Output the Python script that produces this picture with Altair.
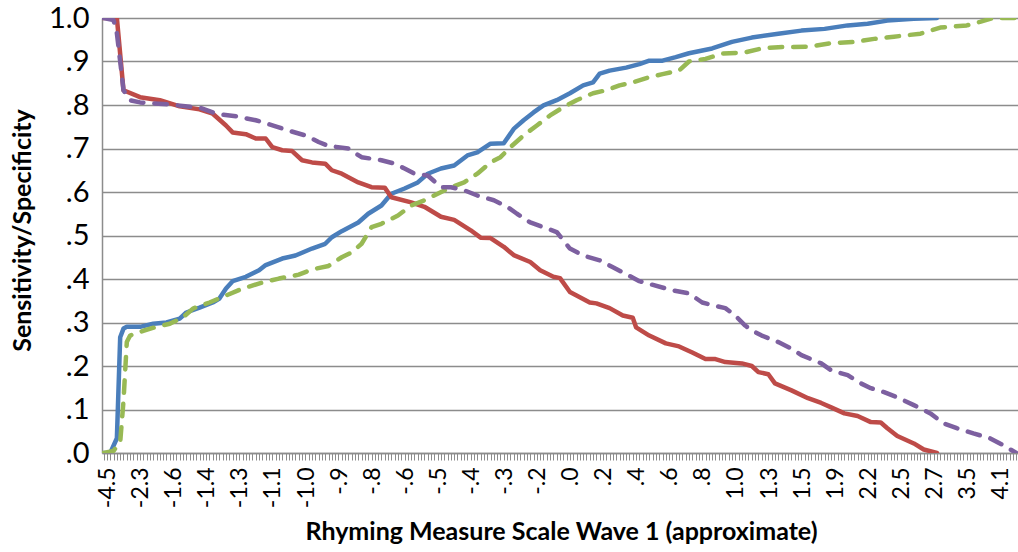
import altair as alt
import pandas as pd

# Cut-off labels shown under every 10th category of the score axis
x_labels = ["-4.5", "-2.3", "-1.6", "-1.4", "-1.3", "-1.1", "-1.0", "-.9", "-.8",
            "-.6", "-.5", "-.4", "-.3", "-.2", ".0", ".2", ".4", ".6", ".8",
            "1.0", "1.3", "1.5", "1.9", "2.2", "2.5", "2.7", "3.5", "4.1"]
n_categories = 277

# Sensitivity, wave 1 (blue, solid)
sens1_idx = [0, 2, 4, 5, 6, 7, 11, 15, 19, 23, 25, 29, 33, 35, 37, 39, 43, 47, 49,
             54, 58, 63, 67, 69, 72, 77, 80, 84, 87, 91, 95, 98, 102, 106, 110, 113,
             117, 121, 124, 127, 130, 133, 137, 141, 145, 148, 150, 153, 158, 162,
             165, 169, 173, 177, 184, 190, 196, 204, 211, 218, 225, 231, 237, 245, 252]
sens1_val = [0.0, 0.0, 0.034, 0.266, 0.286, 0.29, 0.29, 0.297, 0.30, 0.309, 0.323,
             0.334, 0.346, 0.355, 0.378, 0.395, 0.405, 0.42, 0.432, 0.447, 0.454,
             0.47, 0.481, 0.496, 0.51, 0.53, 0.55, 0.569, 0.596, 0.608, 0.622, 0.642,
             0.654, 0.661, 0.684, 0.691, 0.711, 0.712, 0.745, 0.765, 0.783, 0.799,
             0.811, 0.827, 0.845, 0.852, 0.872, 0.879, 0.886, 0.894, 0.902, 0.902,
             0.91, 0.919, 0.93, 0.945, 0.955, 0.964, 0.971, 0.975, 0.983, 0.987,
             0.994, 0.998, 1.0]

# Specificity, wave 1 (red, solid)
spec1_idx = [0, 4, 6, 11, 17, 23, 29, 33, 37, 39, 43, 46, 49, 51, 54, 57, 60, 63,
             67, 69, 72, 77, 81, 85, 87, 93, 97, 102, 106, 111, 114, 117, 121, 124,
             129, 132, 136, 138, 141, 147, 149, 153, 157, 160, 161, 165, 170, 174,
             178, 182, 185, 188, 193, 196, 198, 201, 203, 208, 213, 217, 220, 224,
             228, 232, 235, 237, 240, 245, 248, 252]
spec1_val = [1.0, 1.0, 0.834, 0.818, 0.811, 0.797, 0.79, 0.78, 0.753, 0.737, 0.733,
             0.723, 0.723, 0.703, 0.696, 0.694, 0.673, 0.668, 0.665, 0.65, 0.642,
             0.622, 0.611, 0.61, 0.588, 0.576, 0.566, 0.543, 0.536, 0.512, 0.495,
             0.494, 0.474, 0.455, 0.439, 0.42, 0.405, 0.402, 0.37, 0.346, 0.344,
             0.333, 0.316, 0.311, 0.289, 0.27, 0.252, 0.245, 0.231, 0.216, 0.216,
             0.209, 0.206, 0.2, 0.186, 0.181, 0.16, 0.144, 0.126, 0.115, 0.105,
             0.091, 0.085, 0.071, 0.07, 0.057, 0.039, 0.022, 0.008, 0.0]

# Sensitivity, comparison (green, dashed)
sens2_idx = [0, 3, 5, 6, 7, 8, 12, 16, 20, 24, 27, 32, 37, 42, 48, 53, 59, 63, 68,
             72, 75, 78, 81, 84, 89, 93, 97, 101, 105, 109, 113, 117, 120, 123, 127,
             131, 135, 139, 143, 148, 152, 156, 160, 165, 169, 174, 177, 182, 187,
             194, 199, 204, 213, 220, 227, 233, 239, 247, 253, 261, 265, 269, 276]
sens2_val = [0.0, 0.005, 0.025, 0.12, 0.255, 0.27, 0.281, 0.29, 0.297, 0.312,
             0.332, 0.346, 0.362, 0.378, 0.392, 0.401, 0.41, 0.422, 0.43, 0.45,
             0.461, 0.481, 0.519, 0.527, 0.546, 0.569, 0.581, 0.596, 0.611, 0.622,
             0.642, 0.668, 0.68, 0.703, 0.73, 0.753, 0.776, 0.795, 0.811, 0.827,
             0.834, 0.845, 0.852, 0.864, 0.871, 0.879, 0.9, 0.906, 0.918, 0.921,
             0.93, 0.933, 0.934, 0.942, 0.945, 0.952, 0.957, 0.964, 0.978, 0.983,
             0.991, 1.0, 1.0]

# Specificity, comparison (purple, dashed)
spec2_idx = [0, 3, 4, 5, 6, 8, 11, 20, 29, 34, 40, 46, 52, 56, 61, 65, 68, 74, 78,
             84, 88, 91, 94, 98, 102, 105, 109, 113, 118, 122, 125, 129, 133, 137,
             139, 141, 145, 150, 154, 157, 162, 172, 177, 181, 184, 188, 191, 194,
             196, 199, 204, 208, 211, 217, 220, 225, 229, 232, 236, 240, 245, 250,
             254, 258, 263, 268, 272, 276]
spec2_val = [1.0, 0.995, 0.965, 0.9, 0.834, 0.811, 0.806, 0.801, 0.794, 0.78,
             0.774, 0.765, 0.751, 0.741, 0.73, 0.715, 0.706, 0.70, 0.68, 0.673,
             0.665, 0.654, 0.642, 0.638, 0.611, 0.611, 0.604, 0.592, 0.581, 0.566,
             0.55, 0.53, 0.519, 0.508, 0.489, 0.47, 0.454, 0.443, 0.427, 0.415,
             0.395, 0.374, 0.367, 0.346, 0.34, 0.333, 0.316, 0.293, 0.282, 0.27,
             0.255, 0.24, 0.225, 0.206, 0.19, 0.179, 0.16, 0.149, 0.14, 0.128, 0.11,
             0.091, 0.068, 0.057, 0.045, 0.034, 0.018, 0.0]

series = [
    ("Sensitivity W1", sens1_idx, sens1_val, "#4A7EBB", None),
    ("Specificity W1", spec1_idx, spec1_val, "#BE4B48", None),
    ("Sensitivity W2", sens2_idx, sens2_val, "#98B954", [12.5, 11]),
    ("Specificity W2", spec2_idx, spec2_val, "#7D60A0", [12.5, 11]),
]

FONT = "Lato"
GRID = "#8C8C8C"

label_js = "[" + ",".join("'" + s + "'" for s in x_labels) + "]"
x_label_expr = ("datum.value % 10 === 0 && datum.value / 10 < " + str(len(x_labels))
                + " ? " + label_js + "[datum.value / 10] : ''")

x_enc = alt.X(
    "idx:Q",
    scale=alt.Scale(domain=[-0.5, n_categories - 0.5], nice=False, zero=False),
    axis=alt.Axis(
        title="Rhyming Measure Scale Wave 1 (approximate)",
        values=list(range(n_categories)),
        labelExpr=x_label_expr,
        labelAngle=270,
        labelOverlap=False,
        labelFont=FONT, labelFontSize=23, labelColor="#000000", labelPadding=7,
        labelOffset=4,
        labelFlush=False,
        ticks=True, tickSize=7, tickColor=GRID, tickWidth=1,
        domainColor=GRID, domainWidth=1.5,
        grid=False,
        titleFont=FONT, titleFontSize=25, titleFontWeight="bold", titleColor="#000000",
        titleX=459, titleY=86, titleAlign="center", titleBaseline="alphabetic",
        titleAnchor="middle",
    ),
)

y_enc = alt.Y(
    "val:Q",
    scale=alt.Scale(domain=[0, 1], nice=False),
    axis=alt.Axis(
        title="Sensitivity/Specificity",
        values=[i / 10 for i in range(11)],
        labelExpr="replace(format(datum.value, '.1f'), '0.', '.')",
        labelFont=FONT, labelFontSize=29, labelColor="#000000", labelPadding=13,
        ticks=False,
        domainColor=GRID, domainWidth=1.5,
        grid=True, gridColor=GRID, gridWidth=1.5,
        titleFont=FONT, titleFontSize=25, titleFontWeight="bold", titleColor="#000000",
        titleAngle=270, titleX=-72, titleY=212, titleAlign="center",
        titleBaseline="alphabetic",
    ),
)

layers = []
for name, idx, val, color, dash in series:
    df = pd.DataFrame({"idx": idx, "val": val, "series": name})
    mark_kwargs = dict(color=color, strokeWidth=4.5, strokeCap="round",
                       strokeJoin="round", clip=True)
    if dash:
        mark_kwargs["strokeDash"] = dash
    layers.append(alt.Chart(df).mark_line(**mark_kwargs).encode(x=x_enc, y=y_enc))

chart = alt.layer(*layers).properties(
    width=916,
    height=435,
    autosize=alt.AutoSizeParams(type="none"),
    padding={"left": 102, "top": 18, "right": 0, "bottom": 99},
    background="#FFFFFF",
).configure_view(stroke=None)

chart.save("out.html", embed_options={"renderer": "svg", "actions": False})
